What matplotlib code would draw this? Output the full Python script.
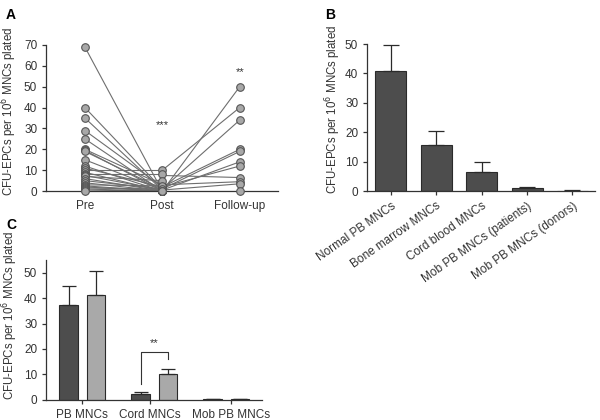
import numpy as np
import matplotlib.pyplot as plt

# Panel A: paired values per subject
pre = [69, 40, 35, 29, 25, 20, 19.5, 19, 15, 12, 11, 10, 9, 8, 7.5, 7, 6, 5, 4, 3, 2.5, 2, 1.5, 1, 0.5, 0]
post = [0, 1, 0.5, 2, 0, 3, 0, 1, 0.5, 0, 2, 10, 0, 8, 0.5, 5, 0, 1, 0, 2.5, 0, 0, 1, 0, 0, 0]
fu_post = [0, 10, 1, 2, 1, 0.5, 2, 7.5, 3, 0.5, 0]
fu = [50, 40, 34, 20, 19, 14, 12, 6.5, 4.5, 3.5, 0]
a_labels = ['Pre', 'Post', 'Follow-up']

# Panel B
b_labels = ['Normal PB MNCs', 'Bone marrow MNCs', 'Cord blood MNCs',
            'Mob PB MNCs (patients)', 'Mob PB MNCs (donors)']
b_vals = [40.8, 15.8, 6.4, 1.0, 0.2]
b_err = [9.0, 4.7, 3.6, 0.5, 0.1]

# Panel C
c_labels = ['PB MNCs', 'Cord MNCs', 'Mob PB MNCs']
c_dark = [37.1, 2.1, 0.3]
c_dark_err = [7.6, 0.8, 0.1]
c_light = [41.3, 10.3, 0.4]
c_light_err = [9.4, 1.8, 0.1]

ylab = 'CFU-EPCs per 10$^6$ MNCs plated'
line_col = '#6e6e6e'
dark = '#4d4d4d'
light = '#a9a9a9'

plt.rcParams['font.family'] = ['Liberation Sans', 'DejaVu Sans']
fig = plt.figure(figsize=(6, 4.2), dpi=100)


def style(ax):
    for s in ['top', 'right']:
        ax.spines[s].set_visible(False)
    for s in ['left', 'bottom']:
        ax.spines[s].set_color('#333333')
        ax.spines[s].set_linewidth(0.9)
    ax.tick_params(colors='#333333', labelsize=8.5, width=0.9, length=3)
    ax.set_ylabel(ylab, fontsize=8.3, color='#333333')


# ---- A
axA = fig.add_axes([0.077, 0.545, 0.387, 0.348])
for p, q in zip(pre, post):
    axA.plot([0, 1], [p, q], color=line_col, lw=0.8, zorder=1)
for p, q in zip(fu_post, fu):
    axA.plot([1, 2], [p, q], color=line_col, lw=0.8, zorder=1)
kw = dict(s=30, facecolor='#a8a8a8', edgecolor='#555555', linewidth=0.8, zorder=3, clip_on=False)
axA.scatter(np.zeros(len(pre)), pre, **kw)
axA.scatter(np.ones(len(post)), post, **kw)
axA.scatter(np.full(len(fu), 2), fu, **kw)
axA.set_xlim(-0.5, 2.5)
axA.set_ylim(0, 70)
axA.set_yticks(range(0, 71, 10))
axA.set_xticks([0, 1, 2])
axA.set_xticklabels(a_labels)
axA.tick_params(axis='x', length=0)
axA.text(1, 29, '***', ha='center', va='bottom', fontsize=8, color='#333333')
axA.text(2, 54.5, '**', ha='center', va='bottom', fontsize=8, color='#333333')
style(axA)
axA.yaxis.set_label_coords(-0.118, 0.545)

# ---- B
axB = fig.add_axes([0.612, 0.545, 0.38, 0.35])
xb = np.arange(len(b_vals))
axB.bar(xb, b_vals, width=0.68, color=dark, edgecolor='#2a2a2a', linewidth=0.8,
        yerr=[np.zeros(len(b_err)), b_err], capsize=6,
        error_kw=dict(ecolor='#2a2a2a', elinewidth=0.9, capthick=0.9))
axB.set_xlim(-0.52, 4.5)
axB.set_ylim(0, 50)
axB.set_yticks(range(0, 51, 10))
axB.set_xticks(xb)
axB.set_xticklabels(b_labels, rotation=35, ha='right', rotation_mode='anchor')
style(axB)
axB.yaxis.set_label_coords(-0.105, 0.554)

# ---- C
axC = fig.add_axes([0.077, 0.048, 0.36, 0.333])
xc = np.arange(len(c_labels))
off = 0.19
bw = 0.26
err_kw = dict(ecolor='#2a2a2a', elinewidth=0.9, capthick=0.9)
axC.bar(xc - off, c_dark, width=bw, color=dark, edgecolor='#2a2a2a', linewidth=0.8,
        yerr=[np.zeros(3), c_dark_err], capsize=5, error_kw=err_kw)
axC.bar(xc + off, c_light, width=bw, color=light, edgecolor='#2a2a2a', linewidth=0.8,
        yerr=[np.zeros(3), c_light_err], capsize=5, error_kw=err_kw)
axC.plot([1 - off, 1 - off, 1 + off, 1 + off], [6.1, 18.9, 18.9, 16.2],
         color='#333333', lw=0.8)
axC.text(1, 20.5, '**', ha='center', va='bottom', fontsize=8, color='#333333')
axC.set_xlim(-0.5, 2.5)
axC.set_ylim(0, 55)
axC.set_yticks(range(0, 51, 10))
# labels sit slightly off the group centres in the original
axC.set_xticks([0, 0.94, 2.07])
axC.set_xticklabels(c_labels)
axC.tick_params(axis='x', length=0)
style(axC)
axC.yaxis.set_label_coords(-0.122, 0.607)

fig.text(0.01, 0.982, 'A', fontsize=10, fontweight='bold', va='top')
fig.text(0.542, 0.982, 'B', fontsize=10, fontweight='bold', va='top')
fig.text(0.01, 0.482, 'C', fontsize=10, fontweight='bold', va='top')

fig.savefig('out.png', dpi=100)
